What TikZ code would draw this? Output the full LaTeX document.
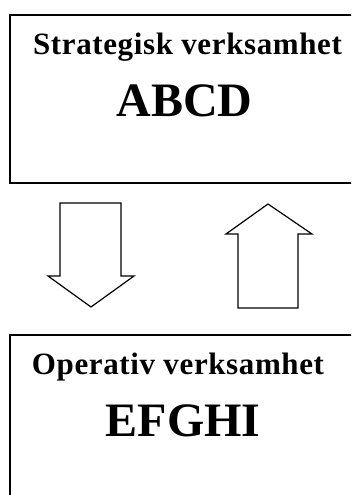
\documentclass[tikz,border=0pt]{standalone}
\usepackage{fontspec}
\setmainfont{Liberation Serif}
\newfontfamily\spacedserif[LetterSpace=2]{Liberation Serif}
\begin{document}
\begin{tikzpicture}[x=1pt, y=-1pt,
    level/.style={draw, line width=1.6pt, rectangle, inner sep=0pt},
    title/.style={font=\spacedserif\fontsize{31}{31}\selectfont\bfseries, anchor=base, inner sep=0pt},
    code/.style={font=\fontsize{48}{48}\selectfont\bfseries, anchor=base, inner sep=0pt},
    blockarrow/.style={draw, line width=1.2pt, line join=miter}]
      \useasboundingbox (0,0) rectangle (351,495);
      \clip (0,0) rectangle (351,495);

      % Nodes
      \node[level, minimum width=380pt, minimum height=168pt, anchor=north west] at (9, 14) (strat) {};
      \node[title] at (187.5, 55) (strattitle) {Strategisk verksamhet};
      \node[code] at (184.5, 116) (stratcode) {ABCD};

      \node[level, minimum width=380pt, minimum height=200pt, anchor=north west] at (9, 334) (oper) {};
      \node[title] at (178, 374) (opertitle) {Operativ verksamhet};
      \node[code] at (183, 436) (opercode) {EFGHI};

      % Arrows
      \draw[blockarrow] (60,203) -- (121,203) -- (121,276) -- (134,276) -- (91,307)
                        -- (48,276) -- (60,276) -- cycle;
      \draw[blockarrow] (238,308) -- (298,308) -- (298,234) -- (312,234) -- (268,204)
                        -- (226,234) -- (238,234) -- cycle;
    \end{tikzpicture}
\end{document}
